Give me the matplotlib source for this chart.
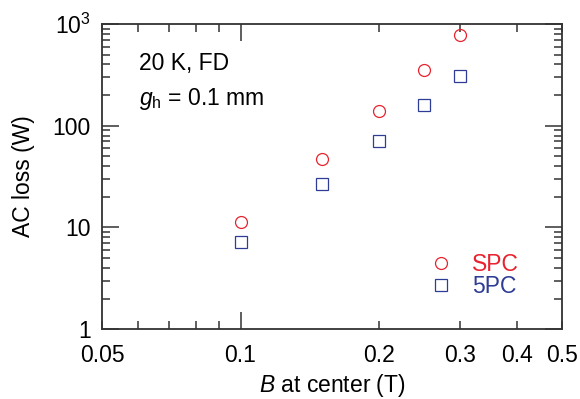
import matplotlib
matplotlib.use("Agg")
import matplotlib.pyplot as plt
from matplotlib.ticker import FixedLocator, FixedFormatter, NullFormatter

plt.rcParams['font.family'] = ['Liberation Sans', 'DejaVu Sans']
plt.rcParams['mathtext.fontset'] = 'custom'
plt.rcParams['mathtext.rm'] = 'Liberation Sans'
plt.rcParams['mathtext.it'] = 'Liberation Sans:italic'

# data
b_field = [0.1, 0.15, 0.2, 0.25, 0.3]
loss_spc = [11.3, 47, 139, 352, 778]
loss_5pc = [7.2, 26.7, 70.6, 160, 307]

x_labels = ['0.05', '0.1', '0.2', '0.3', '0.4', '0.5']
x_label_pos = [0.05, 0.1, 0.2, 0.3, 0.4, 0.5]
y_labels = ['1', '10', '100', '$10^3$']
y_label_pos = [1, 10, 100, 1000]

red = '#e8232f'
blue = '#2e3c96'
axis_col = '#333333'
fs = 16.5

fig = plt.figure(figsize=(5.8, 3.99), dpi=100)
ax = fig.add_axes([0.176, 0.175, 0.793, 0.765])

ax.plot(b_field, loss_spc, 'o', ms=8.6, mfc='none', mec=red, mew=0.9, label='SPC')
ax.plot(b_field, loss_5pc, 's', ms=8.0, mfc='none', mec=blue, mew=0.9, label='5PC')

ax.set_xscale('log')
ax.set_yscale('log')
ax.set_xlim(0.05, 0.5)
ax.set_ylim(1, 1000)

# x: only 0.1 gets a long tick, the labelled others are short
ax.xaxis.set_major_locator(FixedLocator([0.1]))
ax.xaxis.set_major_formatter(FixedFormatter(['0.1']))
minor_x = [0.05, 0.06, 0.07, 0.08, 0.09, 0.2, 0.3, 0.4, 0.5]
minor_x_lab = ['0.05', '', '', '', '', '0.2', '0.3', '0.4', '0.5']
ax.xaxis.set_minor_locator(FixedLocator(minor_x))
ax.xaxis.set_minor_formatter(FixedFormatter(minor_x_lab))

ax.yaxis.set_major_locator(FixedLocator(y_label_pos))
ax.yaxis.set_major_formatter(FixedFormatter(y_labels))
minor_y = [m * d for d in (1, 10, 100) for m in range(2, 10)]
ax.yaxis.set_minor_locator(FixedLocator(minor_y))
ax.yaxis.set_minor_formatter(NullFormatter())

ax.tick_params(which='both', direction='in', top=True, right=True,
               color=axis_col, width=1.1, labelsize=fs, labelcolor='black')
ax.tick_params(which='major', length=12)
ax.tick_params(which='minor', length=6)
ax.tick_params(axis='x', which='both', pad=11)
ax.tick_params(axis='y', which='both', pad=8)

for s in ax.spines.values():
    s.set_color(axis_col)
    s.set_linewidth(1.3)

ax.set_xlabel('$B$ at center (T)', fontsize=fs, labelpad=3)
ax.set_ylabel('AC loss (W)', fontsize=fs, labelpad=12.5)

ax.text(0.08, 0.87, '20 K, FD', transform=ax.transAxes, fontsize=fs, va='center')
ax.text(0.08, 0.755, r'$g_\mathrm{h}$ = 0.1 mm', transform=ax.transAxes, fontsize=fs, va='center')

ax.legend(loc='upper left', bbox_to_anchor=((429.5 - 102) / 460, (329 - 253) / 305),
          frameon=False, fontsize=fs, handlelength=1.0, handletextpad=0.86,
          labelspacing=-0.03, borderpad=0, borderaxespad=0,
          labelcolor=[red, blue])

fig.savefig('out.png', dpi=100)
